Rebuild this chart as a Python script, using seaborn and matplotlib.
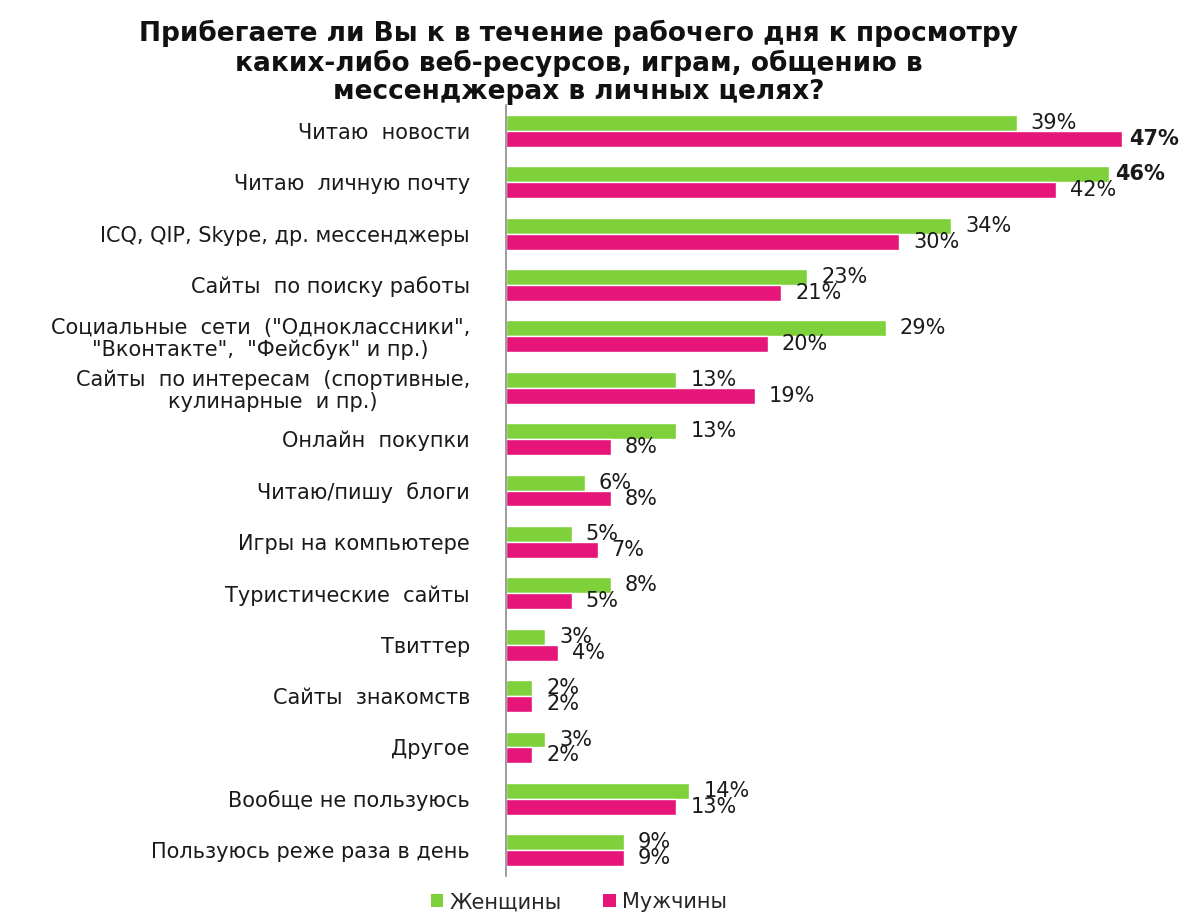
import numpy as np
import pandas as pd
import matplotlib
matplotlib.use("Agg")
import matplotlib.pyplot as plt
import seaborn as sns
from matplotlib.patches import Patch

categories = [
    "Читаю  новости",
    "Читаю  личную почту",
    "ICQ, QIP, Skype, др. мессенджеры",
    "Сайты  по поиску работы",
    "Социальные  сети  (\"Одноклассники\",\n\"Вконтакте\",  \"Фейсбук\" и пр.)",
    "Сайты  по интересам  (спортивные,\nкулинарные  и пр.)",
    "Онлайн  покупки",
    "Читаю/пишу  блоги",
    "Игры на компьютере",
    "Туристические  сайты",
    "Твиттер",
    "Сайты  знакомств",
    "Другое",
    "Вообще не пользуюсь",
    "Пользуюсь реже раза в день",
]
women = [39, 46, 34, 23, 29, 13, 13, 6, 5, 8, 3, 2, 3, 14, 9]
men = [47, 42, 30, 21, 20, 19, 8, 8, 7, 5, 4, 2, 2, 13, 9]
series = ["Женщины", "Мужчины"]
colors = ["#7ED13A", "#E6157A"]

df = pd.DataFrame({
    "cat": categories * 2,
    "val": women + men,
    "sex": [series[0]] * len(categories) + [series[1]] * len(categories),
})

sns.set_style("white")
plt.rcParams["font.family"] = ["DejaVu Sans"]

fig = plt.figure(figsize=(11.84, 9.14), dpi=100)
ax = fig.add_axes([0.4274, 0.0416, 0.5532, 0.8434])

sns.barplot(data=df, y="cat", x="val", hue="sex", orient="h",
            palette=colors, width=0.62, gap=0, saturation=1,
            order=categories, hue_order=series, legend=False, ax=ax)

ax.set_xlim(0, 50)
ax.set_ylim(len(categories) - 0.5, -0.5)
ax.set_xlabel("")
ax.set_ylabel("")
ax.set_xticks([])
for s in ["top", "right", "bottom"]:
    ax.spines[s].set_visible(False)
ax.spines["left"].set_color("#8c8c8c")
ax.spines["left"].set_linewidth(1.2)

ax.tick_params(axis="y", which="major", length=0, pad=26, labelsize=15,
               labelcolor="#1a1a1a")
for t in ax.get_yticklabels():
    t.set_multialignment("center")
    t.set_linespacing(1.1)
ax.set_yticks(np.arange(len(categories) + 1) - 0.5, minor=True)
ax.tick_params(axis="y", which="minor", length=7, width=1.2, color="#8c8c8c",
               direction="out")

# percentage labels, the largest value of each series in bold
bold_max = [max(women), max(men)]
for cont, vals, bmax in zip(ax.containers, [women, men], bold_max):
    texts = ax.bar_label(cont, labels=[f"{v}%" for v in vals], padding=10,
                         fontsize=15, color="#1a1a1a")
    for t, v in zip(texts, vals):
        if v == bmax:
            t.set_fontweight("bold")
            t.xyann = (5, 0)

fig.text(0.489, 0.978,
         "Прибегаете ли Вы к в течение рабочего дня к просмотру\n"
         "каких-либо веб-ресурсов, играм, общению в\n"
         "мессенджерах в личных целях?",
         ha="center", va="top", fontsize=19, fontweight="bold",
         linespacing=1.1, color="#111111")

handles = [Patch(facecolor=c, edgecolor="none") for c in colors]
fig.legend(handles, series, loc="center", bbox_to_anchor=(0.489, 0.013),
           ncol=2, frameon=False, fontsize=15, handlelength=0.6,
           handleheight=0.6, handletextpad=0.3, columnspacing=2.0)

fig.savefig("out.png", dpi=100)
